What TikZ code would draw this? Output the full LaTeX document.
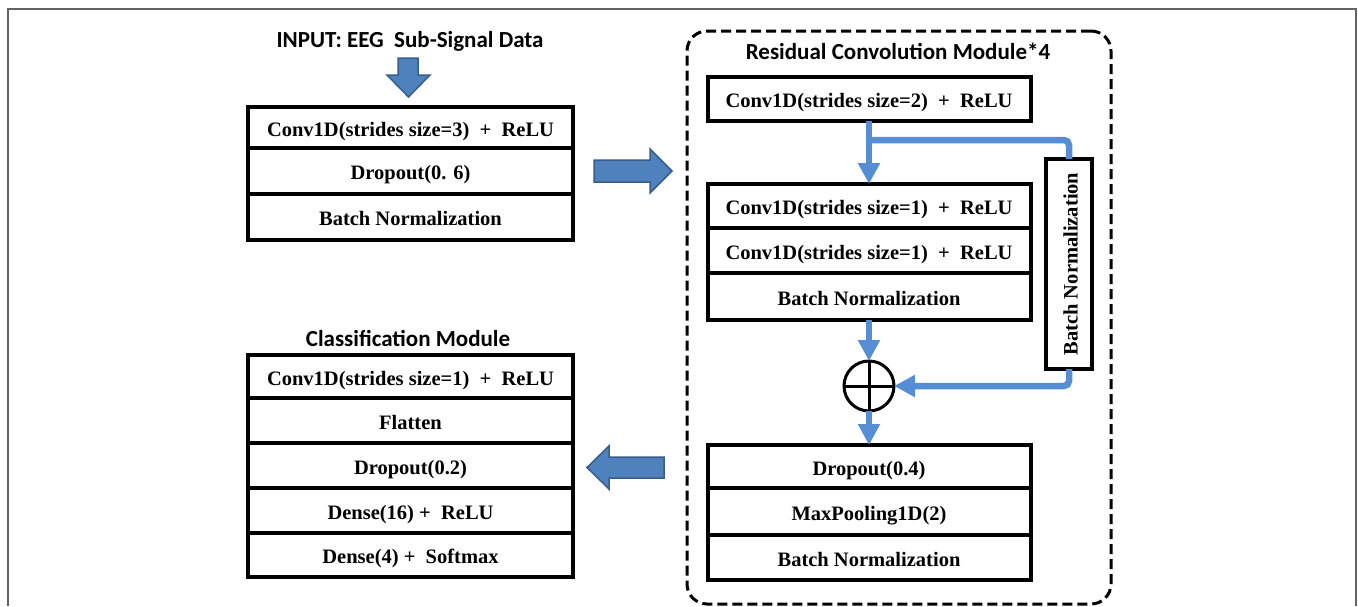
\documentclass[tikz,border=0pt]{standalone}
\usepackage{fontspec}
\setmainfont{Liberation Serif}
\newfontfamily\titlefont{Carlito}
\usetikzlibrary{arrows.meta}

\definecolor{flowblue}{RGB}{85,142,213}
\definecolor{blockfill}{RGB}{79,129,189}
\definecolor{blockedge}{RGB}{56,93,138}
\definecolor{framegray}{RGB}{100,100,100}

\begin{document}
\begin{tikzpicture}[x=1pt,y=-1pt,
  layertext/.style={font=\fontsize{20.5}{24}\selectfont\bfseries, text height=19pt, text depth=2pt},
  layer/.style={layertext, draw=black, line width=4pt, fill=white, inner sep=0pt, outer sep=0pt,
    anchor=north},
  leftlayer/.style={layer, minimum width=325pt},
  rightlayer/.style={layer, minimum width=323pt},
  title/.style={font=\titlefont\fontsize{23}{28}\selectfont\bfseries, inner sep=0pt},
  flow/.style={draw=flowblue, line width=6.5pt},
  flowarrow/.style={flow, -{Triangle[width=21pt,length=21pt]}},
  blockarrow/.style={fill=blockfill, draw=blockedge, line width=1.5pt, line join=miter},
  module/.style={draw=black, line width=3pt, dash pattern=on 10pt off 5pt,
    rounded corners=20pt, inner sep=0pt, anchor=north west}
]
\useasboundingbox (0,0) rectangle (1358,606);

% outer frame
\draw[framegray, line width=1.5pt] (8,606) -- (8,9) -- (1356,9) -- (1356,606);

% input stage
\node[title] (inputtitle) at (410,41) {INPUT: EEG\ \ Sub-Signal Data};
\node[leftlayer, minimum height=41pt] (in1) at (410.5,107) {Conv1D(strides size=3)\ \ +\ \ ReLU};
\node[leftlayer, minimum height=46pt] (in2) at (in1.south) {Dropout(0. 6)};
\node[leftlayer, minimum height=46pt] (in3) at (in2.south) {Batch Normalization};

% classification module
\node[title] (clstitle) at (408,338) {Classification Module};
\node[leftlayer, minimum height=43pt] (c1) at (410.5,355) {Conv1D(strides size=1)\ \ +\ \ ReLU};
\node[leftlayer, minimum height=45pt] (c2) at (c1.south) {Flatten};
\node[leftlayer, minimum height=45pt] (c3) at (c2.south) {Dropout(0.2)};
\node[leftlayer, minimum height=45pt] (c4) at (c3.south) {Dense(16) +\ \ ReLU};
\node[leftlayer, minimum height=44pt] (c5) at (c4.south) {Dense(4) +\ \ Softmax};

% residual convolution module
\node[module, minimum width=424pt, minimum height=573pt] (resmod) at (685.5,29.5) {};
\node[title] (restitle) at (898,51) {Residual Convolution Module*4};
\node[rightlayer, minimum height=44pt] (r0) at (869,77) {Conv1D(strides size=2)\ \ +\ \ ReLU};
\node[rightlayer, minimum height=44pt] (r1) at (869,184) {Conv1D(strides size=1)\ \ +\ \ ReLU};
\node[rightlayer, minimum height=45pt] (r2) at (r1.south) {Conv1D(strides size=1)\ \ +\ \ ReLU};
\node[rightlayer, minimum height=47pt] (r3) at (r2.south) {Batch Normalization};
\node[layer, minimum width=46pt, minimum height=210pt] (bnv) at (1069,159) {};
\node[layertext, rotate=90, inner sep=0pt] (bnvtext) at (bnv.center) {Batch Normalization};
\node[draw=black, line width=3pt, circle, minimum size=50pt, inner sep=0pt, outer sep=0pt] (plus) at (869,386) {};
\draw[line width=3pt] (plus.north) -- (plus.south) (plus.west) -- (plus.east);
\node[rightlayer, minimum height=43pt] (r4) at (869,445) {Dropout(0.4)};
\node[rightlayer, minimum height=47pt] (r5) at (r4.south) {MaxPooling1D(2)};
\node[rightlayer, minimum height=45pt] (r6) at (r5.south) {Batch Normalization};

% data flow inside the residual module
\coordinate (split) at (869,140);
\draw[flowarrow] (r0.south) -- (r1.north);
\draw[flow, rounded corners=5pt] (split) -| (bnv.north);
\draw[flowarrow] (r3.south) -- (plus.north);
\draw[flowarrow, rounded corners=5pt] (bnv.south) |- (plus.east);
\draw[flowarrow] (plus.south) -- (r4.north);

% block arrows between stages
\draw[blockarrow] (398,58) -- (418,58) -- (418,75) -- (430,75) -- (408.5,97)
  -- (387,75) -- (398,75) -- cycle;
\draw[blockarrow] (594,160) -- (650,160) -- (650,149) -- (672,171) -- (650,193)
  -- (650,182) -- (594,182) -- cycle;
\draw[blockarrow] (664,457) -- (609,457) -- (609,446) -- (587,467.5) -- (609,489)
  -- (609,478) -- (664,478) -- cycle;
\end{tikzpicture}
\end{document}
